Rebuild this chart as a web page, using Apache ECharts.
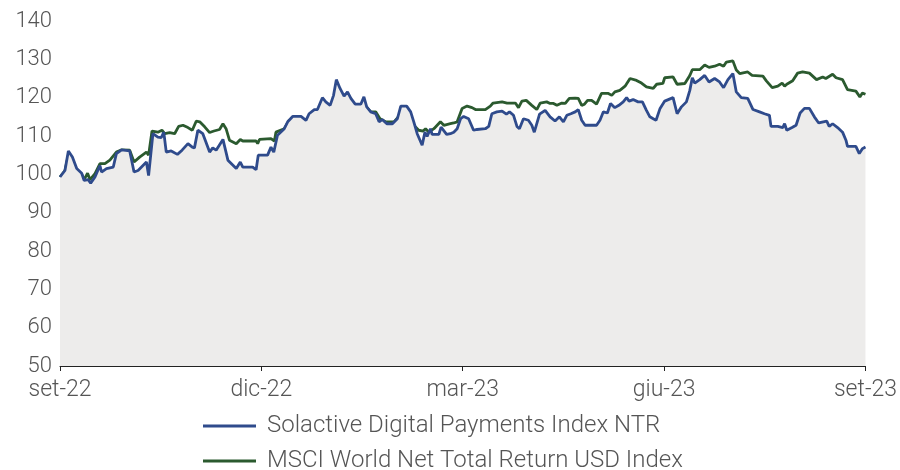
<!DOCTYPE html>
<html>
<head>
<meta charset="utf-8">
<script src="https://cdn.jsdelivr.net/npm/echarts@6/dist/echarts.min.js"></script>
<style>
	html, body { margin: 0; padding: 0; background: #fff; }
	#chart { width: 900px; height: 470px; }
</style>
</head>
<body>
<div id="chart"></div>
<script>
// asse x: giorni di borsa dall'inizio (0 = set-22, 260 = set-23)
const tickLabels = ["set-22", "dic-22", "mar-23", "giu-23", "set-23"];
const yTicks = [50, 140, 10];

// [giorno, valore]
const solactive = [
	[0, 99.3], [1.6, 101.0], [2.7, 106.1], [4.0, 104.5], [5.4, 101.5], [7.0, 100.3], [7.8, 98.4], [9.1, 98.6],
	[9.9, 97.7], [11.3, 99.3], [12.9, 102.3], [13.4, 100.6], [15.0, 101.5], [17.2, 101.9], [18.2, 105.4], [19.9, 106.4],
	[22.5, 106.1], [23.9, 100.6], [25.2, 101.0], [27.9, 103.2], [28.6, 99.7], [30.0, 110.6], [31.6, 109.7], [32.7, 109.6],
	[33.5, 111.0], [34.3, 105.8], [35.9, 106.1], [37.9, 105.2], [39.4, 106.3], [41.3, 108.0], [42.7, 107.1], [43.4, 106.9],
	[44.5, 111.5], [46.1, 110.6], [48.3, 105.8], [49.3, 106.9], [50.4, 106.3], [52.6, 109.1], [53.1, 108.7], [54.2, 103.7],
	[56.9, 101.5], [58.2, 103.2], [59.0, 101.9], [62.2, 101.9], [63.3, 101.2], [64.0, 105.0], [67.0, 105.0], [68.1, 107.1],
	[69.0, 105.8], [70.2, 110.2], [72.4, 111.9], [73.5, 113.7], [75.1, 115.1], [77.8, 115.1], [79.4, 114.1], [80.4, 115.8],
	[82.1, 116.9], [83.1, 116.9], [84.7, 120.0], [85.8, 118.9], [87.2, 118.0], [88.3, 120.6], [89.2, 124.7], [90.4, 122.4],
	[91.7, 120.4], [92.8, 121.5], [93.9, 119.8], [95.3, 118.3], [97.1, 118.3], [98.1, 120.2], [99.0, 117.6], [100.3, 116.3],
	[101.9, 115.8], [103.0, 113.7], [104.0, 114.3], [105.5, 113.2], [107.3, 113.2], [108.9, 114.5], [110.0, 117.8], [111.9, 117.8],
	[113.2, 116.3], [114.2, 113.7], [115.3, 110.6], [116.9, 107.6], [117.8, 111.0], [118.5, 109.9], [119.6, 111.9], [120.1, 110.4],
	[122.3, 110.4], [123.0, 112.3], [124.8, 110.4], [126.0, 110.6], [127.1, 111.0], [128.2, 111.9], [129.3, 114.5], [130.3, 115.1],
	[131.9, 114.5], [133.5, 111.5], [134.6, 111.7], [137.3, 111.9], [138.4, 112.5], [139.4, 115.8], [141.0, 116.3], [142.7, 116.5],
	[144.1, 115.7], [145.1, 116.3], [146.4, 115.4], [147.5, 112.5], [148.3, 111.9], [149.6, 114.5], [151.2, 114.1], [152.3, 112.8],
	[153.1, 111.0], [154.8, 115.7], [156.6, 116.7], [158.2, 115.0], [159.8, 113.9], [161.2, 115.0], [162.5, 113.7], [163.6, 115.4],
	[164.9, 115.8], [166.3, 116.3], [167.3, 116.9], [168.4, 114.1], [169.5, 112.8], [173.2, 112.8], [174.3, 114.1], [175.4, 116.3],
	[176.7, 116.0], [177.7, 118.5], [179.1, 117.4], [180.4, 118.0], [181.8, 118.9], [182.9, 120.0], [183.7, 119.1], [185.0, 119.5],
	[186.6, 118.9], [188.0, 118.9], [189.3, 116.7], [190.4, 115.0], [191.5, 114.5], [192.4, 114.1], [193.7, 117.2], [195.2, 119.1],
	[197.9, 120.0], [199.2, 115.8], [200.6, 117.6], [202.2, 118.9], [203.3, 121.9], [204.1, 125.2], [204.9, 123.8], [206.5, 124.7],
	[208.1, 125.8], [209.5, 124.1], [211.3, 125.0], [212.9, 124.1], [214.2, 122.6], [215.6, 124.7], [217.2, 126.3], [218.3, 121.5],
	[219.9, 120.0], [222.0, 119.8], [223.7, 116.9], [225.8, 116.3], [227.4, 115.8], [229.0, 115.4], [229.5, 112.5], [231.7, 112.5],
	[233.3, 112.2], [233.9, 113.2], [234.6, 111.5], [236.3, 112.2], [237.6, 112.8], [238.9, 116.0], [240.3, 117.2], [241.9, 117.2],
	[243.5, 115.0], [244.9, 113.4], [246.4, 113.7], [247.5, 113.9], [248.3, 112.5], [249.4, 113.2], [251.0, 112.2], [252.6, 111.0],
	[253.7, 108.9], [254.2, 107.3], [256.9, 107.3], [258.0, 105.4], [259.0, 106.7], [260, 107.1]
];

const msci = [
	[0, 99.3], [1.6, 101.0], [2.7, 105.0], [4.0, 102.8], [5.4, 100.6], [7.0, 100.0], [7.8, 98.6], [8.9, 100.3],
	[9.7, 98.6], [11.3, 100.2], [12.9, 102.8], [14.5, 102.8], [16.1, 103.7], [18.2, 105.8], [19.9, 106.4], [22.5, 106.3],
	[23.9, 103.2], [25.7, 104.5], [27.9, 105.8], [28.6, 105.0], [29.7, 111.3], [31.6, 111.0], [32.9, 111.5], [33.8, 110.6],
	[35.4, 110.9], [37.0, 110.6], [38.3, 112.5], [39.7, 112.8], [41.3, 112.2], [42.7, 111.5], [44.0, 113.9], [45.1, 113.7],
	[46.7, 112.4], [48.3, 110.9], [49.7, 111.3], [51.5, 111.7], [52.6, 113.2], [53.6, 111.9], [54.7, 108.9], [56.9, 108.0],
	[58.2, 109.1], [59.0, 108.7], [63.3, 108.7], [63.8, 108.0], [64.4, 109.1], [68.1, 109.3], [69.2, 108.7], [69.7, 111.0],
	[72.4, 111.9], [74.0, 114.1], [75.6, 114.5], [77.8, 114.3], [78.8, 112.5], [79.9, 114.1], [82.1, 115.1], [83.7, 115.4],
	[84.7, 116.3], [86.9, 115.6], [89.2, 118.9], [90.6, 117.8], [92.6, 117.8], [94.9, 116.5], [97.1, 117.4], [98.7, 117.8],
	[100.3, 116.3], [101.9, 116.3], [103.3, 114.5], [105.1, 113.7], [107.8, 113.7], [109.7, 115.4], [112.1, 115.7], [113.2, 114.5],
	[114.2, 112.8], [115.8, 111.5], [117.2, 111.3], [118.0, 111.9], [119.1, 111.0], [120.7, 111.9], [122.8, 113.7], [123.9, 112.8],
	[126.0, 113.2], [127.1, 113.4], [128.2, 113.7], [129.8, 117.2], [131.4, 117.8], [133.0, 117.4], [134.1, 116.9], [137.3, 116.9],
	[138.9, 117.8], [139.8, 118.6], [142.7, 118.9], [144.3, 118.6], [147.0, 118.6], [148.0, 117.4], [149.1, 119.1], [150.5, 119.3],
	[152.3, 118.0], [153.9, 116.9], [155.0, 118.6], [157.1, 118.9], [158.2, 118.5], [159.3, 118.5], [160.4, 118.0], [162.0, 118.6],
	[163.1, 118.5], [164.4, 119.8], [166.3, 119.9], [167.3, 119.8], [168.4, 118.0], [169.3, 118.3], [170.3, 119.3], [171.6, 119.3],
	[173.2, 118.3], [174.8, 121.1], [177.0, 121.1], [178.1, 120.6], [179.1, 121.5], [180.7, 121.9], [182.4, 123.0], [184.0, 125.0],
	[186.1, 124.5], [187.7, 123.8], [189.3, 122.8], [191.5, 122.4], [192.6, 123.5], [194.6, 123.7], [195.2, 125.2], [197.9, 125.4],
	[199.2, 123.5], [201.7, 123.7], [203.3, 125.8], [204.1, 127.3], [206.5, 127.3], [208.1, 128.5], [209.5, 127.9], [211.3, 128.2],
	[212.9, 128.7], [214.2, 128.2], [215.1, 129.3], [217.2, 129.6], [218.3, 127.2], [219.4, 126.3], [222.0, 126.7], [223.4, 125.8],
	[226.9, 125.6], [228.0, 124.4], [229.9, 122.6], [231.7, 123.0], [233.1, 123.8], [233.9, 123.0], [234.6, 123.5], [236.5, 124.4],
	[238.1, 126.4], [239.7, 126.7], [241.9, 126.4], [244.2, 124.7], [246.2, 125.4], [247.2, 125.0], [249.4, 126.1], [250.5, 125.2],
	[252.6, 124.7], [254.2, 122.1], [256.9, 121.7], [258.2, 120.2], [259.0, 121.2], [260, 120.9]
];

const seriesNames = ["Solactive Digital Payments Index NTR", "MSCI World Net Total Return USD Index"];

const chart = echarts.init(document.getElementById("chart"));
const textColor = "#555555";
const font = "Roboto";

// una legenda per riga
function legendRow(name, top) {
	return {
		left: 203,
		top: top,
		padding: 0,
		itemWidth: 53,
		itemHeight: 3,
		icon: "rect",
		textStyle: {
			fontFamily: font,
			fontWeight: 300,
			fontSize: 24,
			color: textColor,
			padding: [0, 0, 0, 6],
		},
		data: [name],
	};
}

let option = {
	animation: false,
	grid: {
		left: 60,
		right: 32,
		top: 21,
		bottom: 104,
		containLabel: false,
	},
	legend: [legendRow(seriesNames[0], 414), legendRow(seriesNames[1], 449)],
	xAxis: {
		type: "value",
		min: 0,
		max: 260,
		interval: 65,
		axisLine: {
			show: true,
			lineStyle: { color: "#222", width: 1 },
		},
		axisTick: {
			show: true,
			length: 5,
			lineStyle: { color: "#222" },
		},
		splitLine: { show: false },
		axisLabel: {
			margin: 13,
			fontFamily: font,
			fontWeight: 300,
			fontSize: 23,
			color: textColor,
			formatter: function (v) {
				return tickLabels[Math.round(v / 65)];
			},
		},
	},
	yAxis: {
		type: "value",
		min: yTicks[0],
		max: yTicks[1],
		interval: yTicks[2],
		axisLine: { show: false },
		axisTick: { show: false },
		splitLine: { show: false },
		axisLabel: {
			margin: 8,
			fontFamily: font,
			fontWeight: 300,
			fontSize: 22,
			color: textColor,
		},
	},
	series: [
		{
			name: seriesNames[0],
			type: "line",
			symbol: "none",
			data: solactive,
			lineStyle: { color: "#2f4b8c", width: 2.8 },
			itemStyle: { color: "#2f4b8c" },
			areaStyle: { color: "#edeceb", opacity: 1, origin: "start" },
			z: 3,
		},
		{
			name: seriesNames[1],
			type: "line",
			symbol: "none",
			data: msci,
			lineStyle: { color: "#2b5a2f", width: 2.8 },
			itemStyle: { color: "#2b5a2f" },
			z: 2,
		},
	],
};
chart.setOption(option, true);
</script>
</body>
</html>
